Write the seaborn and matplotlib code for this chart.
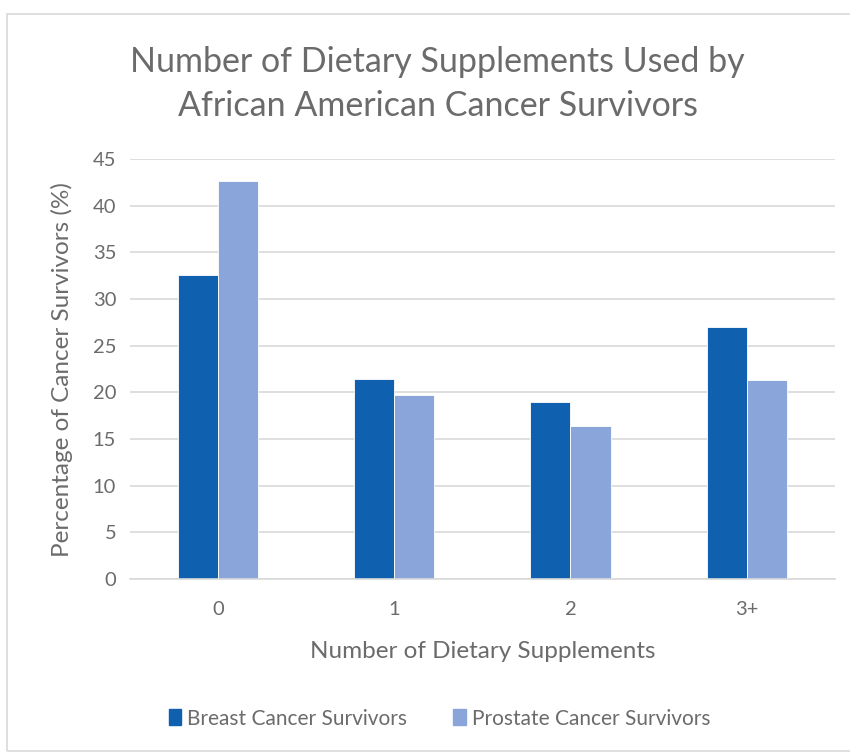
import matplotlib
matplotlib.use("Agg")
import matplotlib.pyplot as plt
import seaborn as sns
import pandas as pd
from matplotlib.patches import Rectangle

# Data
categories = ["0", "1", "2", "3+"]
breast = [32.6, 21.4, 19.0, 27.0]
prostate = [42.6, 19.7, 16.4, 21.3]
series_names = ["Breast Cancer Survivors", "Prostate Cancer Survivors"]
colors = ["#1060B0", "#8AA5DA"]

df = pd.DataFrame({
    "Supplements": categories * 2,
    "Percent": breast + prostate,
    "Group": [series_names[0]] * 4 + [series_names[1]] * 4,
})

sns.set_theme(style="white")
plt.rcParams["font.family"] = ["Lato", "DejaVu Sans"]
text_color = "#6B6B6B"

fig = plt.figure(figsize=(8.5, 7.54), dpi=100)
ax = fig.add_axes([0.153, 0.232, 0.829, 0.557])

sns.barplot(data=df, x="Supplements", y="Percent", hue="Group",
            palette=colors, saturation=1, width=0.455, ax=ax, legend=False,
            edgecolor="white", linewidth=0.6)

ax.set_ylim(0, 45)
ax.set_yticks(range(0, 46, 5))
ax.set_xlim(-0.5, 3.5)
ax.grid(axis="y", color="#D9D9D9", linewidth=1.2)
ax.set_axisbelow(True)
for s in ["top", "right", "left"]:
    ax.spines[s].set_visible(False)
ax.spines["bottom"].set_color("#D9D9D9")
ax.spines["bottom"].set_linewidth(1.2)
ax.tick_params(axis="both", length=0, labelsize=14.5, colors=text_color, pad=10)
ax.tick_params(axis="x", pad=16)

ax.set_xlabel("Number of Dietary Supplements", fontsize=17.5, color=text_color, labelpad=16)
ax.set_ylabel("Percentage of Cancer Survivors (%)", fontsize=17.5, color=text_color, labelpad=14)

fig.text(0.515, 0.889, "Number of Dietary Supplements Used by\nAfrican American Cancer Survivors",
         ha="center", va="center", fontsize=24.5, color=text_color, linespacing=1.45)

# legend
handles = [Rectangle((0, 0), 1, 1, color=c) for c in colors]
fig.legend(handles, series_names, loc="center", bbox_to_anchor=(0.517, 0.047),
           ncol=2, frameon=False, fontsize=15, labelcolor=text_color,
           handlelength=0.6, handleheight=0.8, handletextpad=0.3, columnspacing=2.2)

# chart border
fig.patches.append(Rectangle((0.008, 0.004), 1.2, 0.977, transform=fig.transFigure,
                             fill=False, edgecolor="#D9D9D9", linewidth=1.2))

fig.savefig("out.png", dpi=100, facecolor="white")
